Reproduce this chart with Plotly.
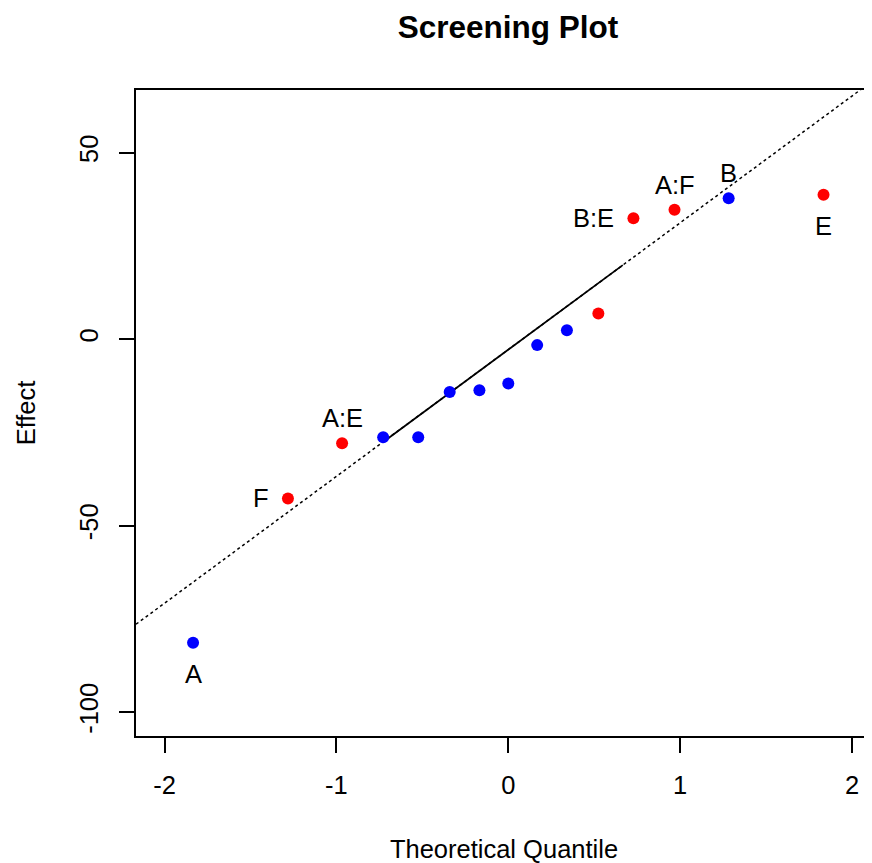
import plotly.graph_objects as go

# ---- data ----
quantiles = [-1.834, -1.282, -0.967, -0.728, -0.524, -0.341, -0.168, 0.0,
             0.168, 0.341, 0.524, 0.728, 0.967, 1.282, 1.834]
effects = [-81.4, -42.7, -27.9, -26.3, -26.3, -14.2, -13.7, -11.9,
           -1.6, 2.4, 6.9, 32.4, 34.7, 37.8, 38.7]
significant = [False, True, True, False, False, False, False, False,
               False, False, True, True, True, False, True]
labels = ["A", "F", "A:E", "", "", "", "", "", "", "", "", "B:E", "A:F", "B", "E"]
label_pos = ["below", "left", "above", "", "", "", "", "", "", "", "", "left", "above", "above", "below"]

line_intercept = -2.8
line_slope = 34.0
solid_segment = [-0.728, 0.666]

x_ticks = [-2, -1, 0, 1, 2]
y_ticks = [-100, -50, 0, 50]
x_range = [-2.166, 2.116]
y_range = [-106.4, 66.8]

FONT = "Liberation Sans, Arial, Helvetica, sans-serif"
BLUE = "#0000ff"
RED = "#ff0000"

# the page body adds an 8px margin; size the figure so the plot lands where the reference has it
PAGE_OFFSET = 8
W, H = 872 - PAGE_OFFSET, 863 - PAGE_OFFSET

fig = go.Figure()

# dotted reference line over full x range
fig.add_trace(go.Scatter(
    x=x_range, y=[line_intercept + line_slope * v for v in x_range],
    mode="lines", line=dict(color="black", width=1.5, dash="dot"),
    hoverinfo="skip", showlegend=False))

# solid segment
fig.add_trace(go.Scatter(
    x=solid_segment, y=[line_intercept + line_slope * v for v in solid_segment],
    mode="lines", line=dict(color="black", width=1.8),
    hoverinfo="skip", showlegend=False))

colors = [RED if s else BLUE for s in significant]
fig.add_trace(go.Scatter(
    x=quantiles, y=effects, mode="markers",
    marker=dict(color=colors, size=12, line=dict(width=0)),
    showlegend=False))

shift = {"below": (0, -31, "center", "middle"),
         "above": (0, 25, "center", "middle"),
         "left": (-17, 0, "right", "middle")}
for xq, ye, lab, pos in zip(quantiles, effects, labels, label_pos):
    if not lab:
        continue
    dx, dy, xa, ya = shift[pos]
    fig.add_annotation(x=xq, y=ye, text=lab, showarrow=False,
                       xshift=dx, yshift=dy, xanchor=xa, yanchor=ya,
                       font=dict(family=FONT, size=25.5, color="black"))

left, top, bottom = 136 - PAGE_OFFSET, 90 - PAGE_OFFSET, 736 - PAGE_OFFSET
fig.update_layout(
    width=W, height=H,
    margin=dict(l=left, r=0, t=top, b=H - bottom, pad=0),
    paper_bgcolor="white", plot_bgcolor="white",
    font=dict(family=FONT, size=25.5, color="black"),
    title=dict(text="<b>Screening Plot</b>", x=(508 - 136) / 736, xref="paper",
               xanchor="center", y=1 - 27 / H + PAGE_OFFSET / H, yref="container",
               yanchor="middle",
               font=dict(family=FONT, size=31.5, color="black")),
)
fig.update_xaxes(
    range=x_range, tickvals=x_ticks, ticktext=[str(v) for v in x_ticks],
    showgrid=False, zeroline=False, showline=True, linecolor="black", linewidth=1.5,
    mirror=True, ticks="outside", ticklen=15, tickwidth=1.5, tickcolor="black",
    ticklabelstandoff=11,
    title=dict(text="Theoretical Quantile", standoff=42,
               font=dict(family=FONT, size=25.5)),
)
fig.update_yaxes(
    range=y_range, tickvals=y_ticks, ticktext=[str(v) for v in y_ticks],
    showgrid=False, zeroline=False, showline=True, linecolor="black", linewidth=1.5,
    mirror=False, ticks="outside", ticklen=15, tickwidth=1.5, tickcolor="black",
    tickangle=-90, ticklabelstandoff=11,
    title=dict(text="Effect", standoff=32, font=dict(family=FONT, size=25.5)),
)

fig.write_html("out.html")
